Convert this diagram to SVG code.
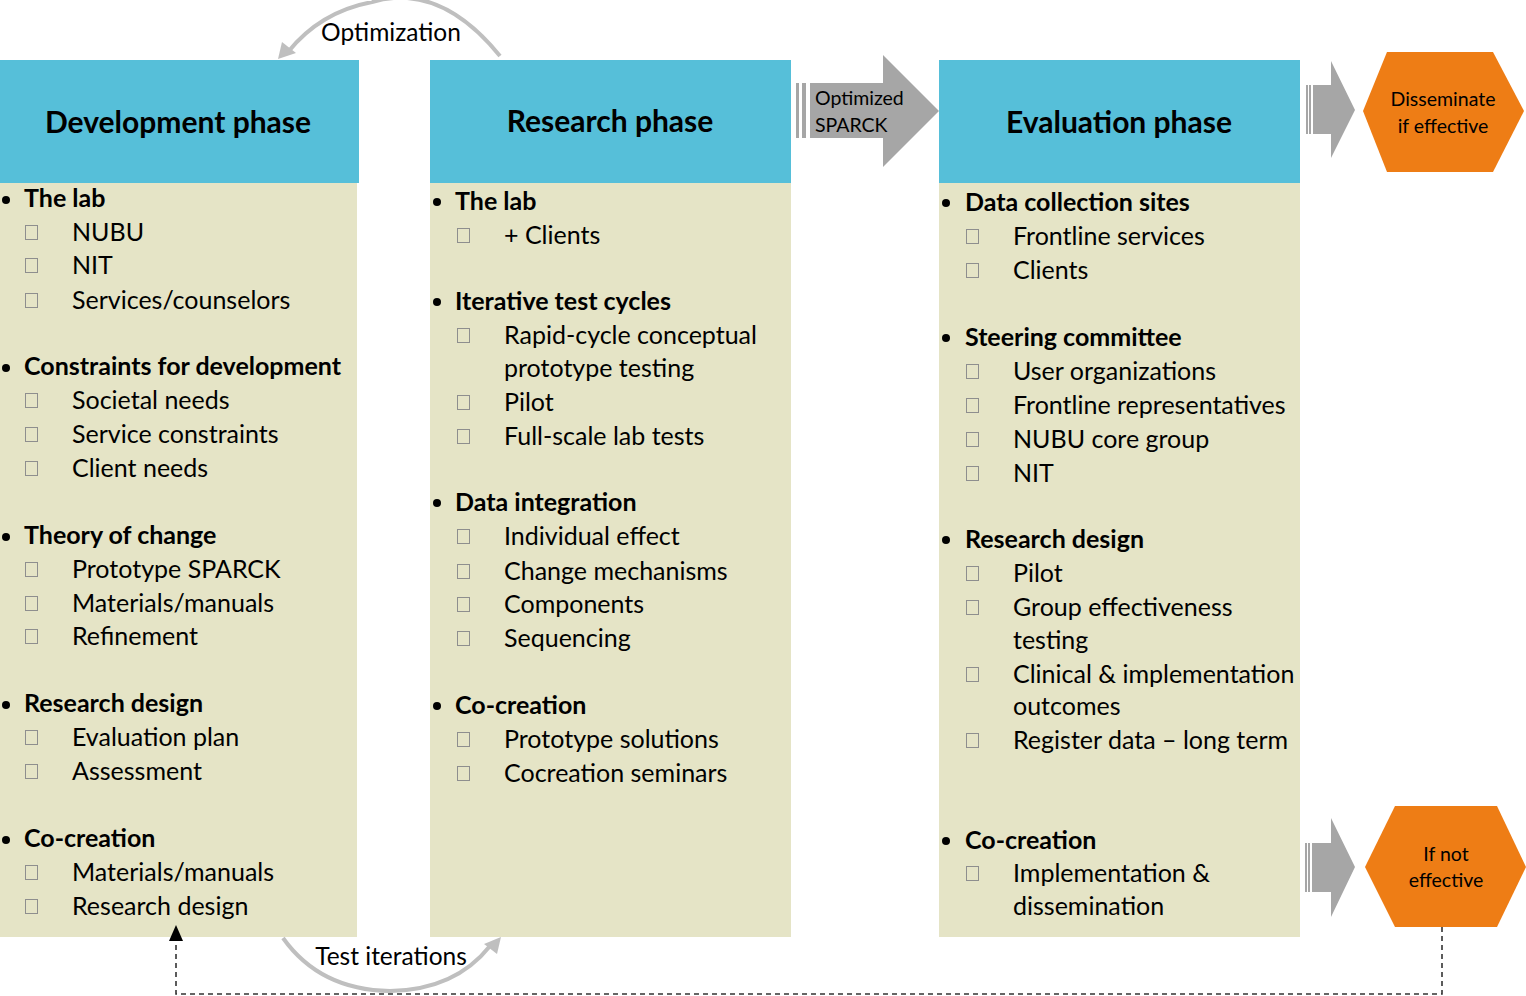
<svg xmlns="http://www.w3.org/2000/svg" width="1526" height="996" viewBox="0 0 1526 996">
<defs>
<style>
.hdr{fill:#56BFD9}
.body{fill:#E5E4C6}
.ht{font-family:Lato,"Open Sans",sans-serif;font-weight:bold;font-size:30px;fill:#000;text-anchor:middle}
.b{font-family:Lato,"Open Sans",sans-serif;font-weight:bold;font-size:25px;fill:#000}
.t{font-family:Lato,"Open Sans",sans-serif;font-size:25px;fill:#000}
.s{font-family:Lato,"Open Sans",sans-serif;font-size:19.5px;fill:#000}
.sc{font-family:Lato,"Open Sans",sans-serif;font-size:19.5px;fill:#000;text-anchor:middle}
.lbl{font-family:Lato,"Open Sans",sans-serif;font-size:24.5px;fill:#000;text-anchor:middle}
.cb{fill:none;stroke:#8E8E8E;stroke-width:1}
.arc{fill:none;stroke:#BFBFBF;stroke-width:4}
.ga{fill:#A6A6A6}
.hex{fill:#EE7D15}
</style>
</defs>

<g id="development">
<rect class="hdr" x="0" y="60" width="359" height="123"/>
<rect class="body" x="0" y="183" width="357" height="754"/>
<text class="ht" x="178" y="133">Development phase</text>
<circle cx="6" cy="200" r="4"/><text class="b" x="24" y="207">The lab</text>
<rect class="cb" x="25.5" y="225.5" width="12" height="14"/><text class="t" x="72" y="241">NUBU</text>
<rect class="cb" x="25.5" y="258.5" width="12" height="14"/><text class="t" x="72" y="274">NIT</text>
<rect class="cb" x="25.5" y="293.5" width="12" height="14"/><text class="t" x="72" y="309">Services/counselors</text>
<circle cx="6" cy="368" r="4"/><text class="b" x="24" y="375">Constraints for development</text>
<rect class="cb" x="25.5" y="393.5" width="12" height="14"/><text class="t" x="72" y="409">Societal needs</text>
<rect class="cb" x="25.5" y="427.5" width="12" height="14"/><text class="t" x="72" y="443">Service constraints</text>
<rect class="cb" x="25.5" y="461.5" width="12" height="14"/><text class="t" x="72" y="477">Client needs</text>
<circle cx="6" cy="537" r="4"/><text class="b" x="24" y="544">Theory of change</text>
<rect class="cb" x="25.5" y="562.5" width="12" height="14"/><text class="t" x="72" y="578">Prototype SPARCK</text>
<rect class="cb" x="25.5" y="596.5" width="12" height="14"/><text class="t" x="72" y="612">Materials/manuals</text>
<rect class="cb" x="25.5" y="629.5" width="12" height="14"/><text class="t" x="72" y="645">Refinement</text>
<circle cx="6" cy="705" r="4"/><text class="b" x="24" y="712">Research design</text>
<rect class="cb" x="25.5" y="730.5" width="12" height="14"/><text class="t" x="72" y="746">Evaluation plan</text>
<rect class="cb" x="25.5" y="764.5" width="12" height="14"/><text class="t" x="72" y="780">Assessment</text>
<circle cx="6" cy="840" r="4"/><text class="b" x="24" y="847">Co-creation</text>
<rect class="cb" x="25.5" y="865.5" width="12" height="14"/><text class="t" x="72" y="881">Materials/manuals</text>
<rect class="cb" x="25.5" y="899.5" width="12" height="14"/><text class="t" x="72" y="915">Research design</text>
</g>

<g id="research">
<rect class="hdr" x="430" y="60" width="361" height="123"/>
<rect class="body" x="430" y="183" width="361" height="754"/>
<text class="ht" x="610" y="132">Research phase</text>
<circle cx="437" cy="202" r="4"/><text class="b" x="455" y="210">The lab</text>
<rect class="cb" x="457.5" y="228.5" width="12" height="14"/><text class="t" x="504" y="244">+ Clients</text>
<circle cx="437" cy="302" r="4"/><text class="b" x="455" y="310">Iterative test cycles</text>
<rect class="cb" x="457.5" y="328.5" width="12" height="14"/><text class="t" x="504" y="344">Rapid-cycle conceptual</text>
<text class="t" x="504" y="377">prototype testing</text>
<rect class="cb" x="457.5" y="395.5" width="12" height="14"/><text class="t" x="504" y="411">Pilot</text>
<rect class="cb" x="457.5" y="429.5" width="12" height="14"/><text class="t" x="504" y="445">Full-scale lab tests</text>
<circle cx="437" cy="503" r="4"/><text class="b" x="455" y="511">Data integration</text>
<rect class="cb" x="457.5" y="529.5" width="12" height="14"/><text class="t" x="504" y="545">Individual effect</text>
<rect class="cb" x="457.5" y="564.5" width="12" height="14"/><text class="t" x="504" y="580">Change mechanisms</text>
<rect class="cb" x="457.5" y="597.5" width="12" height="14"/><text class="t" x="504" y="613">Components</text>
<rect class="cb" x="457.5" y="631.5" width="12" height="14"/><text class="t" x="504" y="647">Sequencing</text>
<circle cx="437" cy="706" r="4"/><text class="b" x="455" y="714">Co-creation</text>
<rect class="cb" x="457.5" y="732.5" width="12" height="14"/><text class="t" x="504" y="748">Prototype solutions</text>
<rect class="cb" x="457.5" y="766.5" width="12" height="14"/><text class="t" x="504" y="782">Cocreation seminars</text>
</g>

<g id="evaluation">
<rect class="hdr" x="939" y="60" width="361" height="123"/>
<rect class="body" x="939" y="183" width="361" height="754"/>
<text class="ht" x="1119" y="133">Evaluation phase</text>
<circle cx="946" cy="203" r="4"/><text class="b" x="965" y="211">Data collection sites</text>
<rect class="cb" x="966.5" y="229.5" width="12" height="14"/><text class="t" x="1013" y="245">Frontline services</text>
<rect class="cb" x="966.5" y="263.5" width="12" height="14"/><text class="t" x="1013" y="279">Clients</text>
<circle cx="946" cy="338" r="4"/><text class="b" x="965" y="346">Steering committee</text>
<rect class="cb" x="966.5" y="364.5" width="12" height="14"/><text class="t" x="1013" y="380">User organizations</text>
<rect class="cb" x="966.5" y="398.5" width="12" height="14"/><text class="t" x="1013" y="414">Frontline representatives</text>
<rect class="cb" x="966.5" y="432.5" width="12" height="14"/><text class="t" x="1013" y="448">NUBU core group</text>
<rect class="cb" x="966.5" y="466.5" width="12" height="14"/><text class="t" x="1013" y="482">NIT</text>
<circle cx="946" cy="540" r="4"/><text class="b" x="965" y="548">Research design</text>
<rect class="cb" x="966.5" y="566.5" width="12" height="14"/><text class="t" x="1013" y="582">Pilot</text>
<rect class="cb" x="966.5" y="600.5" width="12" height="14"/><text class="t" x="1013" y="616">Group effectiveness</text>
<text class="t" x="1013" y="649">testing</text>
<rect class="cb" x="966.5" y="667.5" width="12" height="14"/><text class="t" x="1013" y="683">Clinical &amp; implementation</text>
<text class="t" x="1013" y="715">outcomes</text>
<rect class="cb" x="966.5" y="733.5" width="12" height="14"/><text class="t" x="1013" y="749">Register data – long term</text>
<circle cx="946" cy="841" r="4"/><text class="b" x="965" y="849">Co-creation</text>
<rect class="cb" x="966.5" y="866.5" width="12" height="14"/><text class="t" x="1013" y="882">Implementation &amp;</text>
<text class="t" x="1013" y="915">dissemination</text>
</g>

<g id="disseminate">
<polygon class="hex" points="1363,111 1387,52 1493,52 1524,111 1493,172 1387,172"/>
<text class="sc" x="1443" y="106">Disseminate</text>
<text class="sc" x="1443" y="133">if effective</text>
</g>

<g id="not-effective">
<polygon class="hex" points="1365,867 1395,806 1497,806 1526,867 1497,927 1395,927"/>
<text class="sc" x="1446" y="861">If not</text>
<text class="sc" x="1446" y="887">effective</text>
</g>

<g id="connectors">
<path class="arc" d="M500,56 Q440,-18 372,2 Q320,12 288,52"/>
<polygon fill="#BFBFBF" points="278,59 282,42 296,53"/>
<text class="lbl" x="391" y="41">Optimization</text>
<path class="arc" d="M283,938 Q320,990 390,991 Q455,990 490,946"/>
<polygon fill="#BFBFBF" points="501,937 497,954 484,944"/>
<text class="lbl" x="391" y="965">Test iterations</text>

<g id="arrow-sparck">
<rect class="ga" x="796" y="83" width="3" height="55"/>
<rect class="ga" x="802" y="83" width="4" height="55"/>
<polygon class="ga" points="810,83 883,83 883,55 939,111 883,167 883,138 810,138"/>
<text class="s" x="815" y="105">Optimized</text>
<text class="s" x="815" y="132">SPARCK</text>
</g>

<g id="arrow-dissem">
<rect class="ga" x="1306" y="85" width="2" height="49"/>
<rect class="ga" x="1309" y="85" width="2" height="49"/>
<polygon class="ga" points="1313,85 1331,85 1331,61 1355,110 1331,158 1331,134 1313,134"/>
</g>

<g id="arrow-not">
<rect class="ga" x="1305" y="843" width="2" height="49"/>
<rect class="ga" x="1308" y="843" width="2" height="49"/>
<polygon class="ga" points="1312,843 1331,843 1331,818 1355,867 1331,917 1331,892 1312,892"/>
</g>

<path d="M1442,927 V994 H176 V940" fill="none" stroke="#333" stroke-width="1.6" stroke-dasharray="5,4"/>
<polygon fill="#000" points="176,925 183,941 169,941"/>
</g>
</svg>
